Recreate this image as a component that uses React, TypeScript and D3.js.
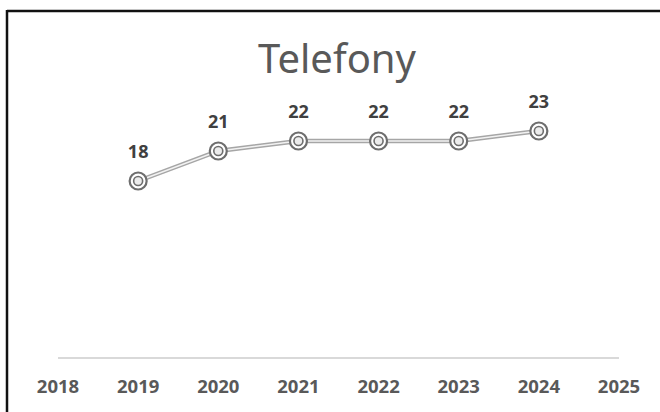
import React from "react";
import * as d3 from "d3";

const years = ["2018", "2019", "2020", "2021", "2022", "2023", "2024", "2025"];
const pointYears = ["2019", "2020", "2021", "2022", "2023", "2024"];
const values = [18, 21, 22, 22, 22, 23];
const title = "Telefony";

const W = 660;
const H = 412;

export default function App() {
  const x = d3.scalePoint<string>().domain(years).range([58, 619]);
  const y = d3.scaleLinear().domain([0, 30]).range([361, 61]);
  const data = pointYears.map((yr, i) => ({ yr, v: values[i] }));
  const line = d3
    .line<{ yr: string; v: number }>()
    .x((d) => x(d.yr) as number)
    .y((d) => y(d.v));
  const path = line(data) || "";
  const axisY = 358;

  return (
    <svg
      width={W}
      height={H}
      style={{ position: "absolute", left: 0, top: 0, background: "#fff" }}
    >
      <rect x={0} y={0} width={W} height={H} fill="#fff" />
      {/* border */}
      <line x1={7} y1={11} x2={W} y2={11} stroke="#111" strokeWidth={2.5} />
      <line x1={7} y1={10} x2={7} y2={H} stroke="#111" strokeWidth={2.5} />

      <text
        x={337}
        y={73}
        textAnchor="middle"
        fontFamily="'Noto Sans', sans-serif"
        fontSize={40}
        fill="#595959"
      >
        {title}
      </text>

      <line
        x1={x(years[0])}
        x2={x(years[years.length - 1])}
        y1={axisY}
        y2={axisY}
        stroke="#d9d9d9"
        strokeWidth={2}
      />
      {years.map((yr) => (
        <text
          key={yr}
          x={x(yr)}
          y={393}
          textAnchor="middle"
          fontFamily="'Open Sans', sans-serif"
          fontWeight="bold"
          fontSize={18.5}
          fill="#595959"
        >
          {yr}
        </text>
      ))}

      <path d={path} fill="none" stroke="#a6a6a6" strokeWidth={4.5} />
      <path d={path} fill="none" stroke="#f2f2f2" strokeWidth={1.5} />

      {data.map((d) => (
        <g key={d.yr} transform={`translate(${x(d.yr)},${y(d.v)})`}>
          <circle r={8.5} fill="#fff" stroke="#6e6e6e" strokeWidth={2.2} />
          <circle r={4.5} fill="#ececec" stroke="#6e6e6e" strokeWidth={1.6} />
        </g>
      ))}

      {data.map((d) => (
        <text
          key={"l" + d.yr}
          x={x(d.yr)}
          y={y(d.v) - 23}
          textAnchor="middle"
          fontFamily="'Open Sans', sans-serif"
          fontWeight="bold"
          fontSize={18}
          fill="#404040"
        >
          {d.v}
        </text>
      ))}
    </svg>
  );
}
